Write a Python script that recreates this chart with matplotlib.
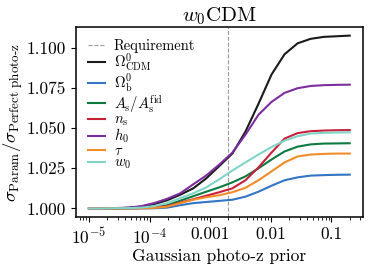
import numpy as np
from matplotlib import pyplot as plt

plt.rcParams['font.family'] = 'serif'
plt.rcParams['font.serif'] = ['cmr10', 'DejaVu Serif']
plt.rcParams['mathtext.fontset'] = 'cm'
plt.rcParams['axes.formatter.use_mathtext'] = True

# prior width grid (log spaced, 21 points from 1e-5 to 0.2)
prior = np.logspace(-5, np.log10(0.2), 21)

omega_cdm = [1.0000, 1.0000, 1.0001, 1.0004, 1.0011, 1.0027, 1.0051, 1.0085, 1.0125, 1.0187, 1.0264,
             1.0341, 1.0477, 1.0650, 1.0832, 1.0958, 1.1026, 1.1054, 1.1066, 1.1070, 1.1074]
omega_b = [1.0000, 1.0000, 1.0000, 1.0000, 1.0000, 1.0001, 1.0005, 1.0020, 1.0033, 1.0040, 1.0047,
           1.0054, 1.0073, 1.0104, 1.0141, 1.0175, 1.0193, 1.0204, 1.0207, 1.0209, 1.0210]
a_s = [1.0000, 1.0000, 1.0000, 1.0001, 1.0003, 1.0008, 1.0020, 1.0048, 1.0076, 1.0104, 1.0131,
       1.0162, 1.0199, 1.0249, 1.0304, 1.0354, 1.0384, 1.0398, 1.0403, 1.0404, 1.0405]
n_s = [1.0000, 1.0000, 1.0000, 1.0001, 1.0002, 1.0005, 1.0014, 1.0036, 1.0057, 1.0079, 1.0101,
       1.0125, 1.0175, 1.0255, 1.0347, 1.0434, 1.0468, 1.0480, 1.0484, 1.0486, 1.0487]
h_0 = [1.0000, 1.0000, 1.0002, 1.0005, 1.0014, 1.0033, 1.0060, 1.0094, 1.0150, 1.0205, 1.0273,
       1.0347, 1.0458, 1.0582, 1.0662, 1.0718, 1.0747, 1.0761, 1.0766, 1.0768, 1.0769]
tau = [1.0000, 1.0000, 1.0000, 1.0000, 1.0001, 1.0003, 1.0011, 1.0033, 1.0054, 1.0070, 1.0082,
       1.0101, 1.0128, 1.0175, 1.0230, 1.0286, 1.0323, 1.0335, 1.0339, 1.0341, 1.0341]
w_0 = [1.0000, 1.0000, 1.0001, 1.0002, 1.0005, 1.0014, 1.0033, 1.0064, 1.0094, 1.0131, 1.0181,
       1.0236, 1.0286, 1.0335, 1.0381, 1.0421, 1.0449, 1.0465, 1.0470, 1.0472, 1.0473]

requirement = 0.002

series = [
    (omega_cdm, r'$\Omega^0_{\rm CDM}$', '#1a1a1a'),
    (omega_b, r'$\Omega^0_{\rm b}$', '#3275c4'),
    (a_s, r'$A_{\rm s}/A_{\rm s}^{\rm fid}$', '#0d7a40'),
    (n_s, r'$n_{\rm s}$', '#c8203a'),
    (h_0, r'$h_0$', '#7d2e9e'),
    (tau, r'$\tau$', '#f28c28'),
    (w_0, r'$w_0$', '#80d4c6'),
]

fig = plt.figure(figsize=(3.74, 2.67), dpi=100)
ax = fig.add_axes([0.203, 0.187, 0.767, 0.712])

ax.axvline(requirement, color='#999999', ls='--', lw=0.8, label='Requirement')
for vals, lab, col in series:
    ax.plot(prior, vals, color=col, lw=1.5, label=lab)

ax.set_xscale('log')
ax.set_xticks([1e-5, 1e-4, 1e-3, 1e-2, 1e-1])
ax.set_xticklabels([r'$10^{-5}$', r'$10^{-4}$', '0.001', '0.01', '0.1'])
ax.set_yticks([1.0, 1.025, 1.05, 1.075, 1.1])
ax.set_yticklabels(['1.000', '1.025', '1.050', '1.075', '1.100'])
ax.tick_params(labelsize=12.5)
for s in ax.spines.values():
    s.set_linewidth(1.1)

ax.set_xlabel('Gaussian photo-z prior', fontsize=12.5, labelpad=1)
ax.set_ylabel(r'$\sigma_{\rm Param}/\sigma_{\rm Perfect\ photo{\text{-}}z}$', fontsize=13.5, labelpad=1)
ax.set_title(r'$w_0$CDM', fontsize=15, pad=4)

ax.legend(loc='upper left', frameon=False, fontsize=10.5, handlelength=1.2,
          handletextpad=0.6, labelspacing=-0.1, borderaxespad=0.4)

fig.savefig('out.png', dpi=100)
